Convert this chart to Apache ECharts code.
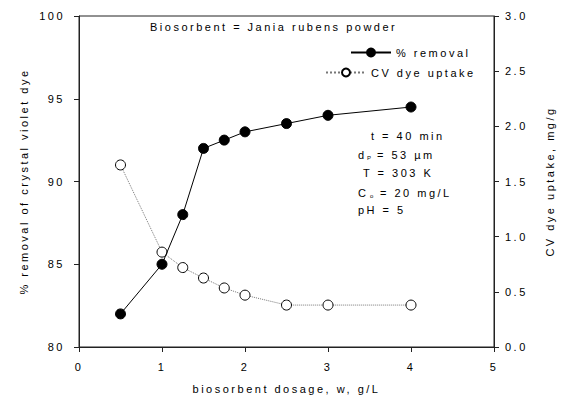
<!DOCTYPE html>
<html><head><meta charset="utf-8">
<script src="https://cdn.jsdelivr.net/npm/echarts@6/dist/echarts.min.js"></script>
<style>
html,body{margin:0;padding:0;background:#fff}
#chart{width:565px;height:400px}
#chart text{letter-spacing:2.5px}
</style>
</head><body><div id="chart"></div>
<script>
const dosage = [0.5, 1, 1.25, 1.5, 1.75, 2, 2.5, 3, 4];
const removal = [82, 85, 88, 92, 92.5, 93, 93.5, 94, 94.5];
const uptake = [1.65, 0.86, 0.72, 0.625, 0.535, 0.47, 0.38, 0.38, 0.38];
const xTicks = [0, 1, 2, 3, 4, 5];
const leftTicks = [80, 85, 90, 95, 100];
const rightTicks = [0, 0.5, 1, 1.5, 2, 2.5, 3];
const seriesNames = ['% removal', 'CV dye uptake'];
const xName = 'biosorbent dosage, w, g/L';
const leftName = '% removal of crystal violet dye';
const rightName = 'CV dye uptake, mg/g';
const titleText = 'Biosorbent = Jania rubens powder';

const FONT = '"Liberation Sans", Arial, sans-serif';
const chart = echarts.init(document.getElementById('chart'), null, {renderer: 'svg'});
const axisCommon = {
  axisLine: {show: true, lineStyle: {color: '#222', width: 1}},
  axisTick: {show: true, length: 5, lineStyle: {color: '#222'}},
  splitLine: {show: false},
  nameTextStyle: {color: '#000', fontSize: 11, fontFamily: FONT},
  axisLabel: {color: '#000', fontSize: 11, fontFamily: FONT}
};
const txt = (text, x, y, size) => ({type: 'text', x, y, style: {text, font: (size || 11) + 'px ' + FONT, fill: '#000', verticalAlign: 'middle'}});
chart.setOption({
  animation: false,
  backgroundColor: '#fff',
  grid: {left: 79, right: 71, top: 16, bottom: 53, show: true, borderColor: '#222', borderWidth: 1, backgroundColor: 'transparent'},
  xAxis: Object.assign({}, axisCommon, {
    type: 'value', min: xTicks[0], max: xTicks[xTicks.length - 1], interval: 1,
    name: xName, nameLocation: 'middle', nameGap: 36,
    axisLabel: Object.assign({}, axisCommon.axisLabel, {margin: 14})
  }),
  yAxis: [
    Object.assign({}, axisCommon, {
      type: 'value', position: 'left', min: leftTicks[0], max: leftTicks[leftTicks.length - 1], interval: 5,
      name: leftName, nameLocation: 'middle', nameGap: 50,
      axisLabel: Object.assign({}, axisCommon.axisLabel, {margin: 14})
    }),
    Object.assign({}, axisCommon, {
      type: 'value', position: 'right', min: rightTicks[0], max: rightTicks[rightTicks.length - 1], interval: 0.5,
      name: rightName, nameLocation: 'middle', nameGap: 50, nameRotate: 90,
      axisLabel: Object.assign({}, axisCommon.axisLabel, {margin: 11, formatter: v => v.toFixed(1)})
    })
  ],
  legend: [
    {data: [seriesNames[0]], left: 345, top: 42, itemWidth: 40, itemHeight: 10, itemGap: 0,
     textStyle: {color: '#000', fontSize: 11, fontFamily: FONT}},
    {data: [seriesNames[1]], left: 320, top: 62, itemWidth: 40, itemHeight: 10, itemGap: 0,
     textStyle: {color: '#000', fontSize: 11, fontFamily: FONT}}
  ],
  series: [
    {name: seriesNames[1], type: 'line', yAxisIndex: 1, z: 2,
     data: dosage.map((x, i) => [x, uptake[i]]),
     symbol: 'circle', symbolSize: 10,
     lineStyle: {color: '#777', width: 1, type: 'dotted'},
     itemStyle: {color: '#fff', borderColor: '#000', borderWidth: 1}},
    {name: seriesNames[0], type: 'line', yAxisIndex: 0, z: 3,
     data: dosage.map((x, i) => [x, removal[i]]),
     symbol: 'circle', symbolSize: 10,
     lineStyle: {color: '#000', width: 1},
     itemStyle: {color: '#000', borderColor: '#000', borderWidth: 1}}
  ],
  graphic: [
    txt(titleText, 150, 27),
    txt('t = 40 min', 371, 136),
    txt('d', 358, 155),
    txt('P', 367, 158, 6),
    txt('= 53 µm', 377, 155),
    txt('T = 303 K', 363, 173),
    txt('C', 358, 193),
    txt('o', 370, 196, 6),
    txt('= 20 mg/L', 380, 193),
    txt('pH = 5', 358, 210)
  ]
});
</script>
</body></html>
